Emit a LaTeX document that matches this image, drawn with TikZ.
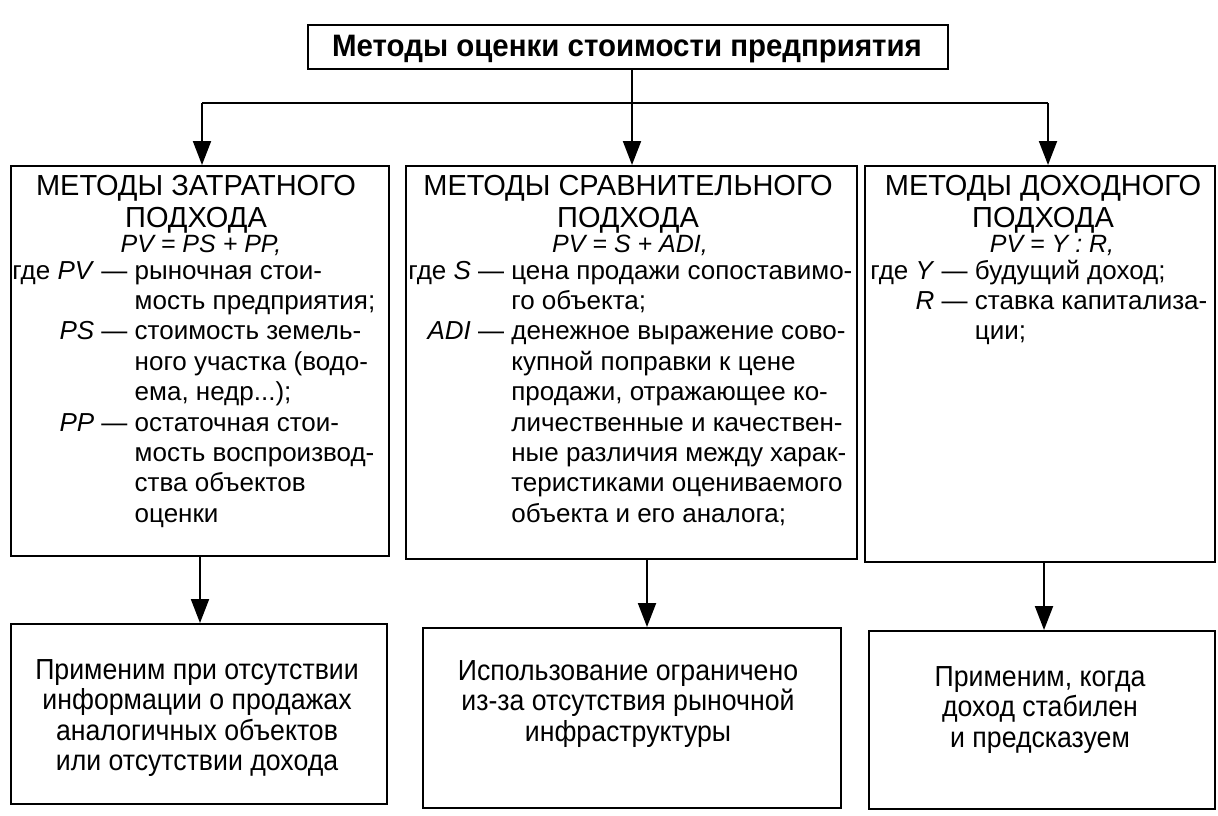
\documentclass[tikz,border=0pt]{standalone}
\usepackage{fontspec}
\setmainfont{Liberation Sans}
\newfontfamily\narrowfont[FakeStretch=0.92]{Liberation Sans}
\newfontfamily\headfont[FakeStretch=0.95]{Liberation Sans}
\usetikzlibrary{arrows.meta}
\tikzset{
  box/.style={draw, line width=1.1pt, inner sep=0pt, anchor=north west},
  arr/.style={line width=1pt, -{Triangle[length=12pt,width=9pt]}},
  ttl/.style={inner sep=0pt, anchor=base, font=\fontsize{14.5}{16}\selectfont},
  frm/.style={inner sep=0pt, anchor=base, font=\itshape\fontsize{12.5}{15}\selectfont},
  body/.style={inner sep=0pt, anchor=base west, font=\fontsize{13}{15.2}\selectfont},
  note/.style={inner sep=0pt, anchor=north, align=center, font=\narrowfont\fontsize{14.5}{15.2}\selectfont},
}
\begin{document}
\begin{tikzpicture}[x=0.5pt,y=-0.5pt]
\useasboundingbox (0,0) rectangle (1218,815);
% boxes
\node[box, minimum width=320pt, minimum height=22pt] (top) at (307,24) {};
\node[box, minimum width=189pt, minimum height=195pt] (m1) at (10,165) {};
\node[box, minimum width=225.5pt, minimum height=196.5pt] (m2) at (405,165) {};
\node[box, minimum width=175pt, minimum height=198pt] (m3) at (864,165) {};
\node[box, minimum width=188pt, minimum height=90pt] (b1) at (10,623) {};
\node[box, minimum width=209pt, minimum height=90pt] (b2) at (422,627) {};
\node[box, minimum width=173pt, minimum height=89pt] (b3) at (868,630) {};
% top title
\node[inner sep=0pt, anchor=base, font=\headfont\bfseries\fontsize{15.5}{17}\selectfont] (tt) at (627,56) {Методы оценки стоимости предприятия};
% connectors
\coordinate (cL) at (202,103);
\coordinate (cM) at (632,103);
\coordinate (cR) at (1048,103);
\draw[line width=1pt] (cL) -- (cR);
\draw[arr] (top.south -| cM) -- (cM |- m2.north);
\draw[arr] (cL) -- (cL |- m1.north);
\draw[arr] (cR) -- (cR |- m3.north);
\coordinate (d1) at (200,0);
\coordinate (d2) at (647,0);
\coordinate (d3) at (1044,0);
\draw[arr] (d1 |- m1.south) -- (d1 |- b1.north);
\draw[arr] (d2 |- m2.south) -- (d2 |- b2.north);
\draw[arr] (d3 |- m3.south) -- (d3 |- b3.north);
% box 1
\node[ttl] (m1a) at (196,195) {МЕТОДЫ ЗАТРАТНОГО};
\node[ttl] (m1b) at (196,227) {ПОДХОДА};
\node[frm] (m1f) at (201,252) {PV = PS + PP,};
\node[body] (m1t) at (12,279) {\begin{tabular}[t]{@{}r@{\ }c@{\ }l@{}}
где \textit{PV} & — & рыночная стои-\\
 & & мость предприятия;\\
\textit{PS} & — & стоимость земель-\\
 & & ного участка (водо-\\
 & & ема, недр...);\\
\textit{PP} & — & остаточная стои-\\
 & & мость воспроизвод-\\
 & & ства объектов\\
 & & оценки
\end{tabular}};
% box 2
\node[ttl] (m2a) at (628,195) {МЕТОДЫ СРАВНИТЕЛЬНОГО};
\node[ttl] (m2b) at (628,227) {ПОДХОДА};
\node[frm] (m2f) at (630,252) {PV = S + ADI,};
\node[body] (m2t) at (408,279) {\begin{tabular}[t]{@{}r@{\ }c@{\ }l@{}}
где \textit{S} & — & цена продажи сопоставимо-\\
 & & го объекта;\\
\textit{ADI} & — & денежное выражение сово-\\
 & & купной поправки к цене\\
 & & продажи, отражающее ко-\\
 & & личественные и качествен-\\
 & & ные различия между харак-\\
 & & теристиками оцениваемого\\
 & & объекта и его аналога;
\end{tabular}};
% box 3
\node[ttl] (m3a) at (1043,195) {МЕТОДЫ ДОХОДНОГО};
\node[ttl] (m3b) at (1043,227) {ПОДХОДА};
\node[frm] (m3f) at (1052,252) {PV = Y : R,};
\node[body] (m3t) at (870,279) {\begin{tabular}[t]{@{}r@{\ }c@{\ }l@{}}
где \textit{Y} & — & будущий доход;\\
\textit{R} & — & ставка капитализа-\\
 & & ции;
\end{tabular}};
% bottom notes
\node[note] (b1t) at (197,659) {Применим при отсутствии\\информации о продажах\\аналогичных объектов\\или отсутствии дохода};
\node[note] (b2t) at (628,660) {Использование ограничено\\из-за отсутствия рыночной\\инфраструктуры};
\node[note] (b3t) at (1040,666) {Применим, когда\\доход стабилен\\и предсказуем};
\end{tikzpicture}
\end{document}
